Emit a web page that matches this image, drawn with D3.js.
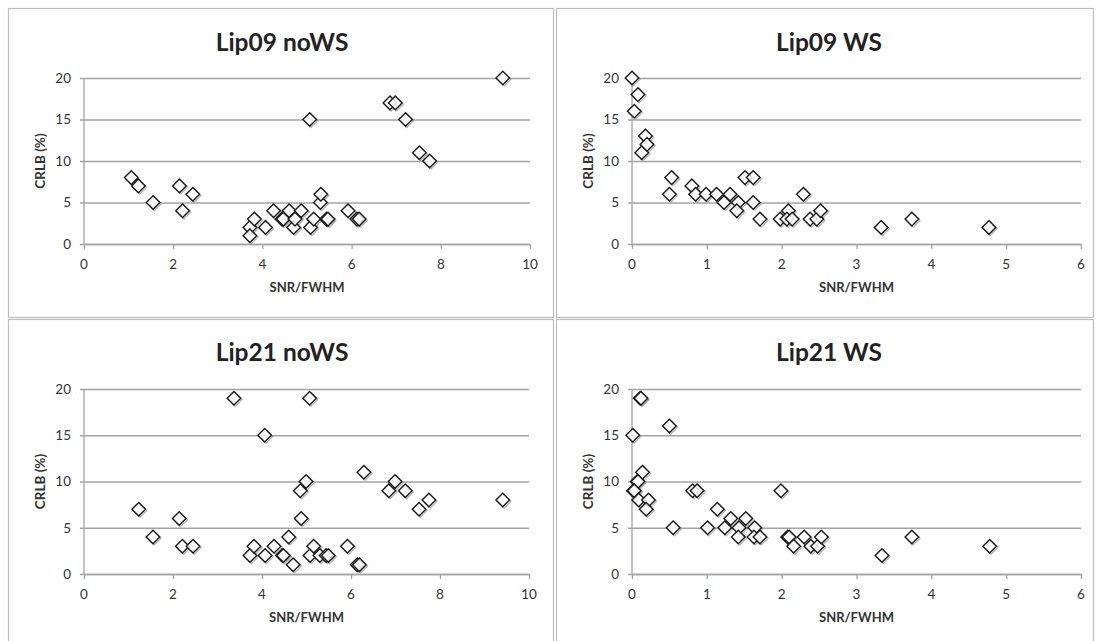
<!DOCTYPE html>
<html>
<head>
<meta charset="utf-8">
<script src="https://cdn.jsdelivr.net/npm/d3@7"></script>
<style>
  html, body { margin: 0; padding: 0; background: #fff; }
  svg { display: block; }
  text { font-family: Lato, "Open Sans", "Noto Sans", sans-serif; }
</style>
</head>
<body>
<svg id="chart" width="1096" height="641"></svg>
<script>
// ---- Data ----
const titles = ["Lip09 noWS", "Lip09 WS", "Lip21 noWS", "Lip21 WS"];
const xLabel = "SNR/FWHM";
const yLabel = "CRLB (%)";
const yTicks = [0, 5, 10, 15, 20];
const xTicksNoWS = [0, 2, 4, 6, 8, 10];
const xTicksWS = [0, 1, 2, 3, 4, 5, 6];

const lip09NoWS = [
  [1.06, 8], [1.22, 7], [1.55, 5], [2.14, 7], [2.21, 4], [2.44, 6],
  [3.72, 2], [3.72, 1], [3.82, 3], [4.07, 2], [4.25, 4], [4.44, 3], [4.47, 3],
  [4.60, 4], [4.70, 2], [4.73, 3], [4.87, 4], [5.06, 15], [5.08, 2], [5.15, 3],
  [5.30, 5], [5.31, 6], [5.44, 3], [5.47, 3], [5.92, 4], [6.12, 3], [6.17, 3],
  [6.86, 17], [6.98, 17], [7.21, 15], [7.52, 11], [7.75, 10], [9.39, 20]
];
const lip09WS = [
  [0.00, 20], [0.08, 18], [0.03, 16], [0.18, 13], [0.20, 12], [0.13, 11],
  [0.50, 6], [0.53, 8], [0.80, 7], [0.85, 6], [0.99, 6], [1.13, 6], [1.23, 5],
  [1.31, 6], [1.42, 5], [1.40, 4], [1.51, 8], [1.62, 8], [1.62, 5], [1.71, 3],
  [1.98, 3], [2.09, 4], [2.07, 3], [2.14, 3], [2.29, 6], [2.38, 3], [2.47, 3],
  [2.52, 4], [3.33, 2], [3.74, 3], [4.77, 2]
];
const lip21NoWS = [
  [1.23, 7], [1.55, 4], [2.14, 6], [2.21, 3], [2.45, 3], [3.37, 19],
  [3.73, 2], [3.82, 3], [4.06, 15], [4.07, 2], [4.27, 3], [4.46, 2], [4.48, 2],
  [4.60, 4], [4.70, 1], [4.86, 9], [4.99, 10], [4.88, 6], [5.07, 19], [5.08, 2],
  [5.16, 3], [5.30, 2], [5.44, 2], [5.49, 2], [5.92, 3], [6.14, 1], [6.19, 1],
  [6.29, 11], [6.85, 9], [6.99, 10], [7.22, 9], [7.53, 7], [7.75, 8], [9.41, 8]
];
const lip21WS = [
  [0.11, 19], [0.12, 19], [0.50, 16], [0.01, 15], [0.14, 11], [0.07, 10], [0.08, 10],
  [0.02, 9], [0.03, 9], [0.09, 8], [0.22, 8], [0.19, 7], [0.55, 5], [0.81, 9],
  [0.87, 9], [1.01, 5], [1.14, 7], [1.24, 5], [1.32, 6], [1.43, 5], [1.42, 4],
  [1.52, 6], [1.64, 5], [1.63, 4], [1.71, 4], [1.99, 9], [2.08, 4], [2.10, 4],
  [2.16, 3], [2.30, 4], [2.39, 3], [2.48, 3], [2.53, 4], [3.34, 2], [3.74, 4],
  [4.78, 3]
];

const seriesList = [lip09NoWS, lip09WS, lip21NoWS, lip21WS];
const xMaxList = [10, 6, 10, 6];
const xTickList = [xTicksNoWS, xTicksWS, xTicksNoWS, xTicksWS];

// ---- Layout ----
const layout = [
  { frame: [8, 8, 545, 309], plot: { l: 84, r: 530, t: 78, b: 244 }, tx: 282, ty: 51 },
  { frame: [556, 8, 537, 309], plot: { l: 632, r: 1081, t: 78, b: 244 }, tx: 829, ty: 51 },
  { frame: [8, 319, 545, 340], plot: { l: 84, r: 529, t: 389, b: 574 }, tx: 282, ty: 361 },
  { frame: [556, 319, 537, 340], plot: { l: 632, r: 1081, t: 389, b: 574 }, tx: 829, ty: 361 }
];

const svg = d3.select("#chart");
const gridColor = "#a3a3a3";
const labelColor = "#333";

const diamond = d3.symbol().type(d3.symbolDiamond2 || d3.symbolSquare2).size(118);

layout.forEach((L, i) => {
  const g = svg.append("g");
  const [fx, fy, fw, fh] = L.frame;
  g.append("rect")
    .attr("x", fx + 0.5).attr("y", fy + 0.5)
    .attr("width", fw).attr("height", fh)
    .attr("fill", "#fff").attr("stroke", "#bdbdbd").attr("stroke-width", 1.2);

  const x = d3.scaleLinear().domain([0, xMaxList[i]]).range([L.plot.l, L.plot.r]);
  const y = d3.scaleLinear().domain([0, 20]).range([L.plot.b, L.plot.t]);

  // horizontal gridlines (y axis with long ticks)
  const yAxis = d3.axisLeft(y).tickValues(yTicks)
    .tickSize(-(L.plot.r - L.plot.l) - 4).tickPadding(0).tickFormat("");
  const yg = g.append("g")
    .attr("transform", `translate(${L.plot.l - 4},0)`)
    .call(yAxis);
  yg.select(".domain").remove();
  yg.selectAll("line").attr("stroke", gridColor).attr("stroke-width", 1.3);

  // y axis line
  g.append("line")
    .attr("x1", L.plot.l).attr("x2", L.plot.l)
    .attr("y1", L.plot.t).attr("y2", L.plot.b)
    .attr("stroke", gridColor).attr("stroke-width", 1.3);

  // y tick labels
  g.selectAll(".ylab").data(yTicks).join("text")
    .attr("x", L.plot.l - 13).attr("y", d => y(d))
    .attr("dy", "0.36em")
    .attr("text-anchor", "end")
    .attr("font-size", 13.5)
    .attr("fill", labelColor)
    .text(d => d);

  // x axis
  const xAxis = d3.axisBottom(x).tickValues(xTickList[i]).tickSize(5).tickFormat("");
  const xg = g.append("g")
    .attr("transform", `translate(0,${L.plot.b})`)
    .call(xAxis);
  xg.select(".domain").attr("stroke", gridColor).attr("stroke-width", 1.3)
    .attr("d", `M${L.plot.l},0.5H${L.plot.r}`);
  xg.selectAll("line").attr("stroke", gridColor).attr("stroke-width", 1.3);

  g.selectAll(".xlab").data(xTickList[i]).join("text")
    .attr("x", d => x(d)).attr("y", L.plot.b + 25)
    .attr("text-anchor", "middle")
    .attr("font-size", 13.5)
    .attr("fill", labelColor)
    .text(d => d);

  // titles
  g.append("text")
    .attr("x", L.tx).attr("y", L.ty)
    .attr("text-anchor", "middle")
    .attr("font-size", 24.5).attr("font-weight", "bold")
    .attr("fill", "#222")
    .text(titles[i]);

  g.append("text")
    .attr("x", (L.plot.l + L.plot.r) / 2).attr("y", L.plot.b + 48)
    .attr("text-anchor", "middle")
    .attr("font-size", 13).attr("font-weight", "bold")
    .attr("fill", "#333")
    .text(xLabel);

  g.append("text")
    .attr("transform", `translate(${L.plot.l - 39},${(L.plot.t + L.plot.b) / 2}) rotate(-90)`)
    .attr("text-anchor", "middle")
    .attr("font-size", 13.5).attr("font-weight", "bold")
    .attr("fill", "#333")
    .text(yLabel);

  // markers: shadow + diamond
  const pts = seriesList[i];
  g.selectAll(".shadow").data(pts).join("path")
    .attr("d", diamond)
    .attr("transform", d => `translate(${x(d[0]) + 1.3},${y(d[1]) + 1.3})`)
    .attr("fill", "none")
    .attr("stroke", "#9a9a9a").attr("stroke-width", 1.4).attr("opacity", 0.7);
  g.selectAll(".pt").data(pts).join("path")
    .attr("d", diamond)
    .attr("transform", d => `translate(${x(d[0])},${y(d[1])})`)
    .attr("fill", "#fff").attr("fill-opacity", 0.85)
    .attr("stroke", "#1a1a1a").attr("stroke-width", 1.4);
});
</script>
</body>
</html>
